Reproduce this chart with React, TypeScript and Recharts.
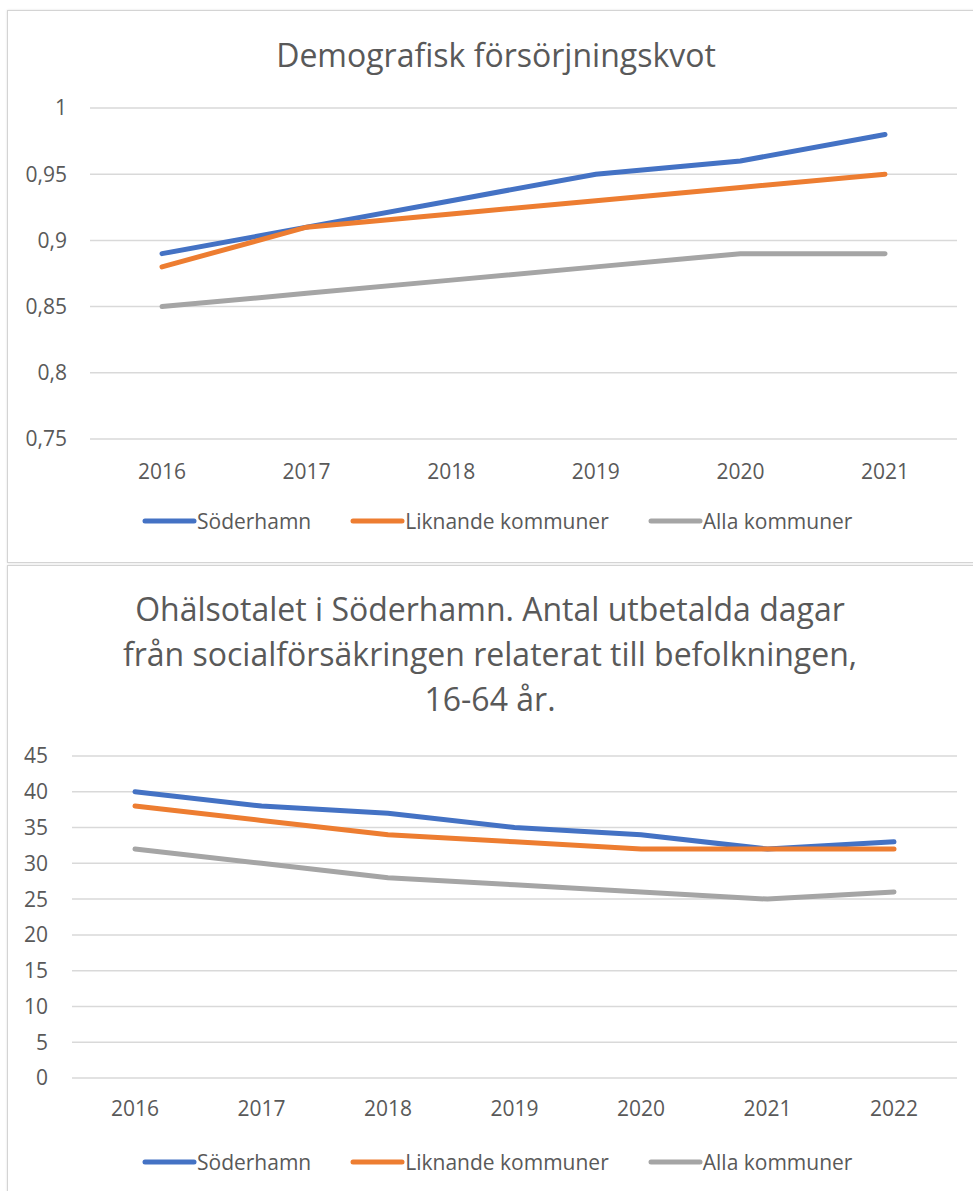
import { LineChart, Line, XAxis, YAxis, CartesianGrid } from 'recharts';

const FONT = '"Open Sans", "Liberation Sans", sans-serif';
const TEXT = '#595959';
const GRID = '#D9D9D9';

// Chart 1: Demografisk försörjningskvot
const years1 = ['2016', '2017', '2018', '2019', '2020', '2021'];
const soderhamn1 = [0.89, 0.91, 0.93, 0.95, 0.96, 0.98];
const liknande1 = [0.88, 0.91, 0.92, 0.93, 0.94, 0.95];
const alla1 = [0.85, 0.86, 0.87, 0.88, 0.89, 0.89];
const ticks1 = [0.75, 0.8, 0.85, 0.9, 0.95, 1];

// Chart 2: Ohälsotalet
const years2 = ['2016', '2017', '2018', '2019', '2020', '2021', '2022'];
const soderhamn2 = [40, 38, 37, 35, 34, 32, 33];
const liknande2 = [38, 36, 34, 33, 32, 32, 32];
const alla2 = [32, 30, 28, 27, 26, 25, 26];
const ticks2 = [0, 5, 10, 15, 20, 25, 30, 35, 40, 45];

const series = [
  { key: 'soderhamn', name: 'Söderhamn', color: '#4472C4' },
  { key: 'liknande', name: 'Liknande kommuner', color: '#ED7D31' },
  { key: 'alla', name: 'Alla kommuner', color: '#A5A5A5' },
];

const data1 = years1.map((year, i) => ({
  year,
  soderhamn: soderhamn1[i],
  liknande: liknande1[i],
  alla: alla1[i],
}));

const data2 = years2.map((year, i) => ({
  year,
  soderhamn: soderhamn2[i],
  liknande: liknande2[i],
  alla: alla2[i],
}));

const comma = (v: number) => String(v).replace('.', ',');

const tickStyle = { fill: TEXT, fontSize: 21, fontFamily: FONT };

const LegendRow = ({ top }: { top: number }) => (
  <div
    style={{
      position: 'absolute',
      top,
      left: 142,
      display: 'flex',
      alignItems: 'center',
      gap: 39,
      fontFamily: FONT,
      fontSize: 21,
      color: TEXT,
      lineHeight: '28px',
    }}
  >
    {series.map((s) => (
      <div key={s.key} style={{ display: 'flex', alignItems: 'center' }}>
        <svg width={55} height={10}>
          <line x1={3} y1={5} x2={52} y2={5} stroke={s.color} strokeWidth={5} strokeLinecap="round" />
        </svg>
        <span>{s.name}</span>
      </div>
    ))}
  </div>
);

const boxStyle = {
  position: 'absolute' as const,
  left: 7,
  width: 990,
  border: '1px solid #D4D4D4',
  boxShadow: '0 0 2px rgba(0,0,0,0.12)',
  background: '#fff',
};

const titleStyle = {
  position: 'absolute' as const,
  textAlign: 'center' as const,
  fontFamily: FONT,
  fontSize: 32,
  lineHeight: '45px',
  color: TEXT,
};

const App = () => {
  return (
    <div style={{ position: 'absolute', top: 0, left: 0, width: 973, height: 1191, overflow: 'hidden', background: '#fff' }}>
      <div style={{ ...boxStyle, top: 10, height: 551 }} />
      <div style={{ ...boxStyle, top: 565, height: 640 }} />

      <div style={{ ...titleStyle, top: 32, left: 7, width: 978 }}>Demografisk försörjningskvot</div>

      <div style={{ position: 'absolute', top: 0, left: 0 }}>
        <LineChart width={973} height={561} data={data1} margin={{ top: 108, right: 16, left: 0, bottom: 82 }}>
          <CartesianGrid vertical={false} stroke={GRID} strokeWidth={1.5} />
          <XAxis
            dataKey="year"
            axisLine={false}
            tickLine={false}
            tickSize={0}
            tickMargin={25}
            height={40}
            padding={{ left: 72, right: 72 }}
            tick={tickStyle}
            interval={0}
          />
          <YAxis
            domain={[0.75, 1]}
            ticks={ticks1}
            tickFormatter={comma}
            axisLine={false}
            tickLine={false}
            tickSize={0}
            tickMargin={23}
            width={90}
            tick={tickStyle}
          />
          {series.map((s) => (
            <Line
              key={s.key}
              type="linear"
              dataKey={s.key}
              name={s.name}
              stroke={s.color}
              strokeWidth={5}
              strokeLinecap="round"
              dot={false}
              activeDot={false}
              isAnimationActive={false}
            />
          ))}
        </LineChart>
      </div>
      <LegendRow top={507} />

      <div style={{ ...titleStyle, top: 586, left: 7, width: 966 }}>
        Ohälsotalet i Söderhamn. Antal utbetalda dagar
        <br />
        från socialförsäkringen relaterat till befolkningen,
        <br />
        16-64 år.
      </div>

      <div style={{ position: 'absolute', top: 565, left: 0 }}>
        <LineChart width={973} height={626} data={data2} margin={{ top: 191, right: 16, left: 0, bottom: 73 }}>
          <CartesianGrid vertical={false} stroke={GRID} strokeWidth={1.5} />
          <XAxis
            dataKey="year"
            axisLine={false}
            tickLine={false}
            tickSize={0}
            tickMargin={23}
            height={40}
            padding={{ left: 63, right: 63 }}
            tick={tickStyle}
            interval={0}
          />
          <YAxis
            domain={[0, 45]}
            ticks={ticks2}
            axisLine={false}
            tickLine={false}
            tickSize={0}
            tickMargin={24}
            width={72}
            tick={tickStyle}
          />
          {series.map((s) => (
            <Line
              key={s.key}
              type="linear"
              dataKey={s.key}
              name={s.name}
              stroke={s.color}
              strokeWidth={5}
              strokeLinecap="round"
              dot={false}
              activeDot={false}
              isAnimationActive={false}
            />
          ))}
        </LineChart>
      </div>
      <LegendRow top={1148} />
    </div>
  );
};

export default App;
